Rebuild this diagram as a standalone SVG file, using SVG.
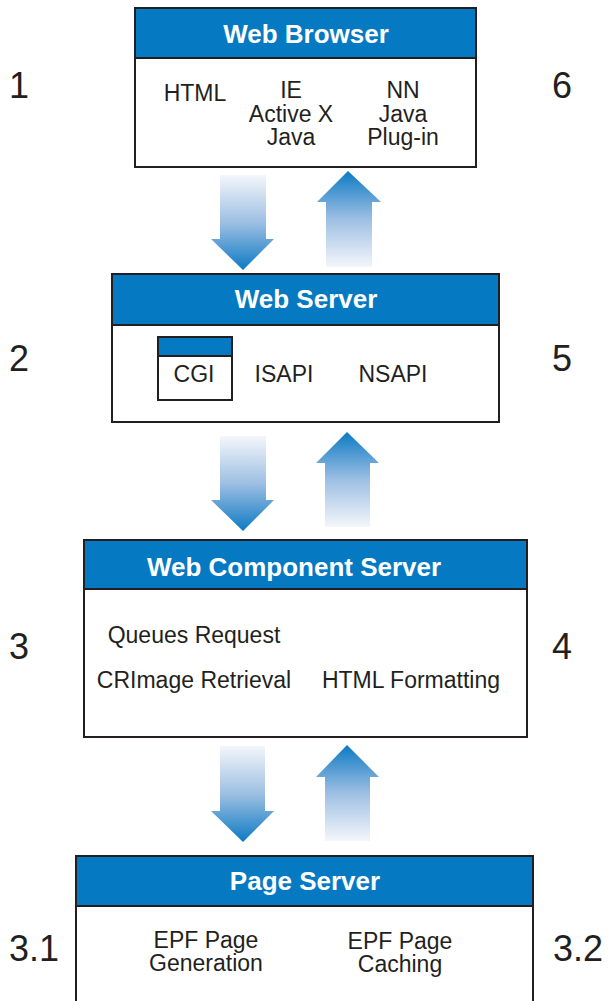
<svg xmlns="http://www.w3.org/2000/svg" width="609" height="1001" viewBox="0 0 609 1001">
<defs>
<linearGradient id="gDown" x1="0" y1="0" x2="0" y2="1">
<stop offset="0" stop-color="#f4f6fb"/>
<stop offset="0.5" stop-color="#9dbfe3"/>
<stop offset="1" stop-color="#0d7ac3"/>
</linearGradient>
<linearGradient id="gUp" x1="0" y1="1" x2="0" y2="0">
<stop offset="0" stop-color="#f4f6fb"/>
<stop offset="0.5" stop-color="#9dbfe3"/>
<stop offset="1" stop-color="#0d7ac3"/>
</linearGradient>
<style>
.box{fill:#ffffff;stroke:#231f20;stroke-width:2}
.hdr{fill:#0579c1;stroke:#231f20;stroke-width:2}
.ht{font-family:"Liberation Sans",Arial,sans-serif;font-weight:bold;font-size:26px;fill:#ffffff;text-anchor:middle}
.bt{font-family:"Liberation Sans",Arial,sans-serif;font-size:23px;fill:#231f20;text-anchor:middle}
.num{font-family:"Liberation Sans",Arial,sans-serif;font-size:36px;fill:#231f20}
.down{fill:url(#gDown)}
.up{fill:url(#gUp)}
</style>
</defs>
<rect width="609" height="1001" fill="#ffffff"/>

<g id="labels">
<text class="num" x="9" y="98">1</text>
<text class="num" x="552" y="98">6</text>
<text class="num" x="9" y="371">2</text>
<text class="num" x="552" y="371">5</text>
<text class="num" x="9" y="659">3</text>
<text class="num" x="552" y="659">4</text>
<text class="num" x="9" y="961">3.1</text>
<text class="num" x="553" y="961">3.2</text>
</g>

<g id="connectors">
<path class="down" d="M220,175 H266 V239 H274 L243,270 L211,239 H220 Z"/>
<path class="up" d="M348,171 L381,202 H372 V267 H326 V202 H317 Z"/>
<path class="down" d="M220,436 H266 V500 H274 L243,531 L211,500 H220 Z"/>
<path class="up" d="M347,432 L379,463 H370 V527 H325 V463 H316 Z"/>
<path class="down" d="M220,746 H265 V811 H274 L243,842 L211,811 H220 Z"/>
<path class="up" d="M347,745 L379,777 H370 V841 H325 V777 H316 Z"/>
</g>

<g id="web-browser">
<rect class="box" x="135" y="8" width="341" height="159"/>
<rect class="hdr" x="135" y="8" width="341" height="50"/>
<text class="ht" x="306" y="43">Web Browser</text>
<text class="bt" x="195" y="101">HTML</text>
<text class="bt" x="291" y="98">IE</text>
<text class="bt" x="291" y="122">Active X</text>
<text class="bt" x="291" y="145">Java</text>
<text class="bt" x="403" y="98">NN</text>
<text class="bt" x="403" y="122">Java</text>
<text class="bt" x="403" y="145">Plug-in</text>
</g>

<g id="web-server">
<rect class="box" x="112" y="274" width="387" height="148"/>
<rect class="hdr" x="112" y="274" width="387" height="51"/>
<text class="ht" x="306" y="308">Web Server</text>
<text class="bt" x="284" y="382">ISAPI</text>
<text class="bt" x="393" y="382">NSAPI</text>
</g>

<g id="cgi">
<rect class="box" x="158" y="337" width="74" height="63" stroke-width="1.5"/>
<rect class="hdr" x="158" y="337" width="74" height="19" stroke-width="1.5"/>
<text class="bt" x="194" y="382">CGI</text>
</g>

<g id="web-component-server">
<rect class="box" x="84" y="540" width="443" height="197"/>
<rect class="hdr" x="84" y="540" width="443" height="49"/>
<text class="ht" x="294" y="576">Web Component Server</text>
<text class="bt" x="194" y="643" font-size="23.5">Queues Request</text>
<text class="bt" x="194" y="688" font-size="23.5">CRImage Retrieval</text>
<text class="bt" x="411" y="688" font-size="23.5">HTML Formatting</text>
</g>

<g id="page-server">
<rect class="box" x="76" y="856" width="457" height="160"/>
<rect class="hdr" x="76" y="856" width="457" height="50"/>
<text class="ht" x="305" y="890">Page Server</text>
<text class="bt" x="206" y="948">EPF Page</text>
<text class="bt" x="206" y="971">Generation</text>
<text class="bt" x="400" y="949">EPF Page</text>
<text class="bt" x="400" y="972">Caching</text>
</g>
</svg>
